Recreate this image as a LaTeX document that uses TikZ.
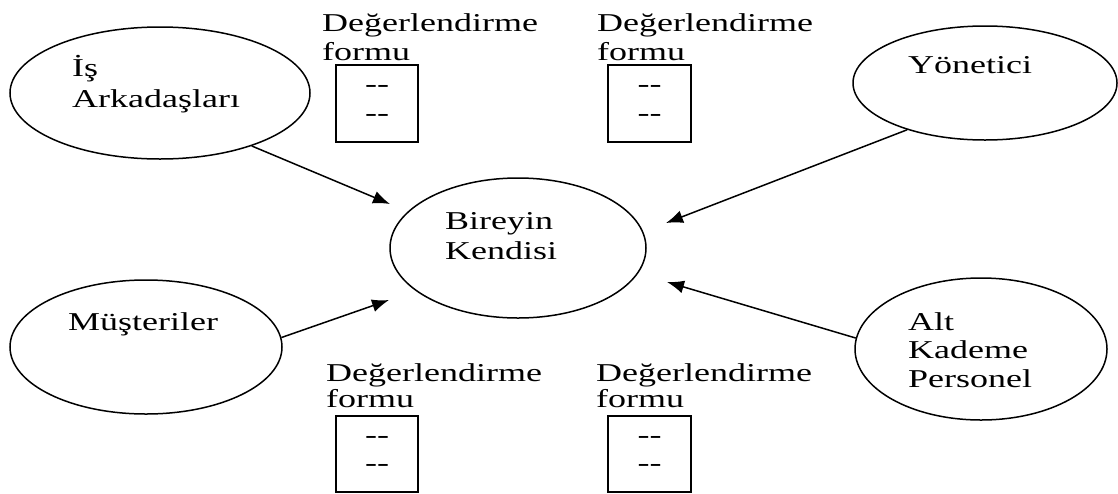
\documentclass[tikz,border=0pt]{standalone}
\usepackage{fontspec}
\setmainfont[FakeStretch=1.4]{Liberation Serif}
\usetikzlibrary{shapes.geometric,arrows.meta}
\begin{document}
\begin{tikzpicture}[x=1pt,y=-1pt,
  oval/.style={ellipse,draw,line width=1.5pt,inner sep=0pt},
  formbox/.style={rectangle,draw,line width=1.5pt,inner sep=0pt,align=center,
    font=\fontsize{25.7}{28.5}\selectfont},
  txt/.style={anchor=base west,inner sep=0pt,font=\fontsize{25.7}{28}\selectfont},
  arr/.style={line width=1.5pt,-{Latex[length=17pt,width=13pt]}}]
\useasboundingbox (0,0) rectangle (1118,493);
\newcommand{\twodash}{\mbox{-}\mbox{-}\\\mbox{-}\mbox{-}}

% evaluators around the person being rated
\node[oval,minimum width=300pt,minimum height=132pt] (is)  at (160,93)  {};
\node[oval,minimum width=264pt,minimum height=114pt] (yon) at (985,83)  {};
\node[oval,minimum width=256pt,minimum height=140pt] (bir) at (518,248) {};
\node[oval,minimum width=272pt,minimum height=134pt] (mus) at (146,347) {};
\node[oval,minimum width=252pt,minimum height=142pt] (alt) at (981,349) {};

% labels of the ellipses
\node[txt] (is1)  at (72,76)   {İş};
\node[txt] (is2)  at (72,107)  {Arkadaşları};
\node[txt] (yon1) at (908,73)  {Yönetici};
\node[txt] (bir1) at (445,229) {Bireyin};
\node[txt] (bir2) at (445,259) {Kendisi};
\node[txt] (mus1) at (68,330)  {Müşteriler};
\node[txt] (alt1) at (908,330) {Alt};
\node[txt] (alt2) at (908,358) {Kademe};
\node[txt] (alt3) at (908,387) {Personel};

% evaluation forms
\node[txt] (f1a) at (322,31)  {Değerlendirme};
\node[txt] (f1b) at (322,60)  {formu};
\node[formbox,minimum width=82pt,minimum height=77pt] (b1) at (377,103.5) {\twodash};
\node[txt] (f2a) at (597,31)  {Değerlendirme};
\node[txt] (f2b) at (597,60)  {formu};
\node[formbox,minimum width=83pt,minimum height=77pt] (b2) at (649.5,103.5) {\twodash};
\node[txt] (f3a) at (326,381) {Değerlendirme};
\node[txt] (f3b) at (326,407) {formu};
\node[formbox,minimum width=82pt,minimum height=76pt] (b3) at (377,454) {\twodash};
\node[txt] (f4a) at (596,381) {Değerlendirme};
\node[txt] (f4b) at (596,407) {formu};
\node[formbox,minimum width=83pt,minimum height=76pt] (b4) at (649.5,454) {\twodash};

% arrow tips near the central ellipse
\coordinate (t1) at (390,204);
\coordinate (t2) at (666,223);
\coordinate (t3) at (389,300);
\coordinate (t4) at (667,282);

\draw[arr] (is.-30.5) -- (t1);
\draw[arr] (yon.-149) -- (t2);
\draw[arr] (mus.4)    -- (t3);
\draw[arr] (alt.175)  -- (t4);
\end{tikzpicture}
\end{document}
